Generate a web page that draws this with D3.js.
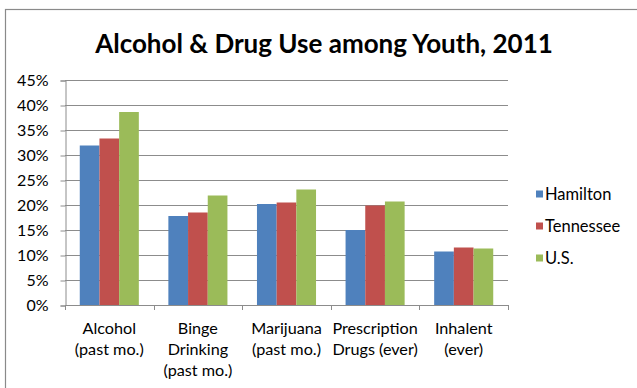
<!DOCTYPE html>
<html>
<head>
<meta charset="utf-8">
<script src="https://cdn.jsdelivr.net/npm/d3@7"></script>
<style>
  html, body { margin: 0; padding: 0; background: #fff; }
  svg { display: block; }
  text { font-family: Lato, "Open Sans", sans-serif; fill: #000; }
</style>
</head>
<body>
<svg id="chart" width="637" height="388"></svg>
<script>
// Survey results, share of youth reporting each behaviour
const categories = [
  ["Alcohol", "(past mo.)"],
  ["Binge", "Drinking", "(past mo.)"],
  ["Marijuana", "(past mo.)"],
  ["Prescription", "Drugs (ever)"],
  ["Inhalent", "(ever)"]
];
const seriesNames = ["Hamilton", "Tennessee", "U.S."];
const hamilton  = [0.319, 0.178, 0.202, 0.150, 0.107];
const tennessee = [0.333, 0.185, 0.205, 0.199, 0.115];
const us        = [0.386, 0.219, 0.231, 0.207, 0.113];
const yTicks = [0, 0.05, 0.10, 0.15, 0.20, 0.25, 0.30, 0.35, 0.40, 0.45];
const colors = ["#4F81BD", "#C0504D", "#9BBB59"];
const title = "Alcohol & Drug Use among Youth, 2011";

const svg = d3.select("#chart");
const values = [hamilton, tennessee, us];

// chart frame
svg.append("rect")
  .attr("x", 5.5).attr("y", 9.5)
  .attr("width", 700).attr("height", 500)
  .attr("fill", "#fff").attr("stroke", "#8a8a8a").attr("stroke-width", 1.2);

svg.append("text")
  .attr("x", 324).attr("y", 53)
  .attr("text-anchor", "middle")
  .attr("font-size", 26).attr("font-weight", "bold")
  .text(title);

const plot = { left: 65, right: 508, top: 80, bottom: 305 };

const y = d3.scaleLinear().domain([0, 0.45]).range([plot.bottom, plot.top]);
const x0 = d3.scaleBand()
  .domain(d3.range(categories.length))
  .range([plot.left, plot.right])
  .paddingInner(1 / 3).paddingOuter(1 / 6);
const x1 = d3.scaleBand()
  .domain(d3.range(seriesNames.length))
  .range([0, x0.bandwidth()]);

// horizontal gridlines
svg.append("g")
  .selectAll("line")
  .data(yTicks.slice(1))
  .join("line")
  .attr("x1", plot.left).attr("x2", plot.right)
  .attr("y1", d => Math.round(y(d)) + 0.5).attr("y2", d => Math.round(y(d)) + 0.5)
  .attr("stroke", "#8c8c8c").attr("stroke-width", 1);

// y axis
const yAxis = d3.axisLeft(y)
  .tickValues(yTicks)
  .tickFormat(d3.format(".0%"))
  .tickSize(5).tickPadding(12);
const gy = svg.append("g")
  .attr("transform", `translate(${plot.left + 0.5},0.5)`)
  .call(yAxis);
gy.select(".domain").attr("stroke", "#8c8c8c");
gy.selectAll(".tick line").attr("stroke", "#8c8c8c");
gy.selectAll(".tick text")
  .attr("font-size", 16).attr("font-family", "Lato, sans-serif").attr("fill", "#000");

// bars
const groups = svg.append("g")
  .selectAll("g")
  .data(categories.map((c, i) => i))
  .join("g")
  .attr("transform", i => `translate(${x0(i)},0)`);
groups.selectAll("rect")
  .data(i => values.map((s, k) => ({ k, v: s[i] })))
  .join("rect")
  .attr("x", d => x1(d.k))
  .attr("width", x1.bandwidth())
  .attr("y", d => y(d.v))
  .attr("height", d => y(0) - y(d.v))
  .attr("fill", d => colors[d.k]);

// x axis with category boundary ticks
const step = x0.step();
const boundaries = d3.range(categories.length + 1).map(i => plot.left + i * step);
const gx = svg.append("g");
gx.append("line")
  .attr("x1", plot.left).attr("x2", plot.right)
  .attr("y1", plot.bottom + 0.5).attr("y2", plot.bottom + 0.5)
  .attr("stroke", "#8c8c8c");
gx.selectAll("line.tick")
  .data(boundaries)
  .join("line")
  .attr("class", "tick")
  .attr("x1", d => Math.round(d) + 0.5).attr("x2", d => Math.round(d) + 0.5)
  .attr("y1", plot.bottom).attr("y2", plot.bottom + 5)
  .attr("stroke", "#8c8c8c");

const labels = gx.selectAll("text")
  .data(categories)
  .join("text")
  .attr("text-anchor", "middle")
  .attr("font-size", 16.2)
  .attr("transform", (d, i) => `translate(${x0(i) + x0.bandwidth() / 2},0)`);
labels.selectAll("tspan")
  .data(d => d)
  .join("tspan")
  .attr("x", 0)
  .attr("y", (d, j) => 334 + j * 21)
  .text(d => d);

// legend
const legend = svg.append("g")
  .selectAll("g")
  .data(seriesNames)
  .join("g")
  .attr("transform", (d, i) => `translate(536,${194 + i * 32})`);
legend.append("rect")
  .attr("x", 0).attr("y", -3.5)
  .attr("width", 7).attr("height", 7)
  .attr("fill", (d, i) => colors[i]);
legend.append("text")
  .attr("x", 9).attr("y", 5.5)
  .attr("font-size", 16.5)
  .text(d => d);
</script>
</body>
</html>
